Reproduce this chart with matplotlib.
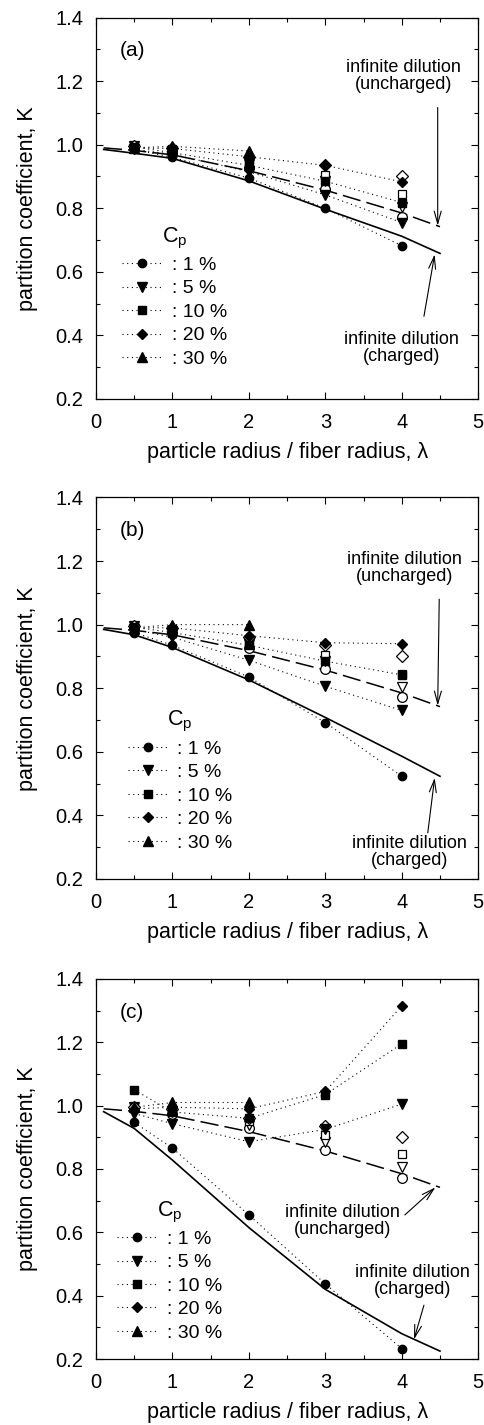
import matplotlib
matplotlib.use("Agg")
import matplotlib.pyplot as plt
from matplotlib.ticker import MultipleLocator

plt.rcParams['font.family'] = ['Liberation Sans', 'DejaVu Sans']

# data
lam = [0.5, 1, 2, 3, 4]
lam_30 = [0.5, 1, 2]
lam_line = [0.1, 0.5, 1, 2, 3, 4, 4.5]

# infinite dilution, uncharged (same in all panels)
K_unch = [0.99, 0.982, 0.968, 0.918, 0.857, 0.785, 0.742]

# infinite dilution, charged
K_ch_a = [0.985, 0.973, 0.957, 0.886, 0.797, 0.712, 0.658]
K_ch_b = [0.985, 0.968, 0.928, 0.826, 0.708, 0.586, 0.523]
K_ch_c = [0.981, 0.928, 0.828, 0.615, 0.42, 0.28, 0.225]

# open symbols (uncharged, finite concentration) - same in all panels
open_1 = [0.99, 0.975, 0.928, 0.86, 0.773]
open_5 = [0.995, 0.98, 0.94, 0.885, 0.805]
open_10 = [0.995, 0.985, 0.95, 0.906, 0.846]
open_20 = [0.995, 0.99, 0.96, 0.935, 0.902]

# filled symbols (charged), per panel
a_1 = [0.985, 0.96, 0.895, 0.80, 0.682]
a_5 = [0.985, 0.97, 0.915, 0.842, 0.755]
a_10 = [0.993, 0.975, 0.935, 0.885, 0.818]
a_20 = [0.99, 0.988, 0.962, 0.935, 0.883]
a_30 = [0.99, 0.995, 0.98]

b_1 = [0.975, 0.935, 0.835, 0.692, 0.523]
b_5 = [0.985, 0.96, 0.888, 0.806, 0.730]
b_10 = [0.992, 0.975, 0.935, 0.885, 0.842]
b_20 = [0.99, 0.99, 0.965, 0.943, 0.940]
b_30 = [0.99, 1.0, 1.0]

c_1 = [0.947, 0.866, 0.655, 0.437, 0.233]
c_5 = [0.975, 0.943, 0.886, 0.925, 1.005]
c_10 = [1.05, 0.98, 0.96, 1.035, 1.195]
c_20 = [0.99, 0.995, 0.99, 1.045, 1.315]
c_30 = [0.995, 1.01, 1.01]

cp_labels = [': 1 %', ': 5 %', ': 10 %', ': 20 %', ': 30 %']
markers = ['o', 'v', 's', 'D', '^']
msizes = [6, 6.5, 5.5, 5.5, 6.5]

dot = (0, (1, 3.2))

fig = plt.figure(figsize=(4.85, 14.25), dpi=100)
ax_a = fig.add_axes([0.198, 0.720, 0.788, 0.2677])
ax_b = fig.add_axes([0.198, 0.3832, 0.788, 0.2677])
ax_c = fig.add_axes([0.198, 0.0463, 0.788, 0.2667])

panels = [
    (ax_a, '(a)', K_ch_a, [a_1, a_5, a_10, a_20, a_30], (0.068, 0.455)),
    (ax_b, '(b)', K_ch_b, [b_1, b_5, b_10, b_20, b_30], (0.083, 0.445)),
    (ax_c, '(c)', K_ch_c, [c_1, c_5, c_10, c_20, c_30], (0.055, 0.42)),
]

for ax, tag, K_ch, series, leg_pos in panels:
    ax.plot(lam_line, K_unch, color='k', lw=1.1, dashes=(12, 4))
    ax.plot(lam_line, K_ch, color='k', lw=1.2)

    for ys, m in zip([open_1, open_5, open_10, open_20], ['o', 'v', 's', 'D']):
        ax.plot(lam, ys, ls='none', marker=m, ms=7 if m in 'ov' else 6,
                mfc='white', mec='k', mew=0.9)

    for ys, m, ms, lab in zip(series, markers, msizes, cp_labels):
        xs = lam_30 if len(ys) == 3 else lam
        ax.plot(xs, ys, color='k', ls=dot, lw=0.8, marker=m, ms=ms,
                mfc='k', mec='k', label=lab)

    ax.set_xlim(0, 5)
    ax.set_ylim(0.2, 1.4)
    ax.xaxis.set_major_locator(MultipleLocator(1))
    ax.xaxis.set_minor_locator(MultipleLocator(0.5))
    ax.yaxis.set_major_locator(MultipleLocator(0.2))
    ax.yaxis.set_minor_locator(MultipleLocator(0.1))
    ax.yaxis.set_major_formatter(plt.FormatStrFormatter('%.1f'))
    ax.tick_params(which='both', direction='in', top=True, right=True,
                   labelsize=14.5, width=0.8)
    ax.tick_params(which='major', length=5)
    ax.tick_params(which='minor', length=3)
    ax.tick_params(axis='x', pad=10)
    ax.tick_params(axis='y', pad=9)
    for sp in ax.spines.values():
        sp.set_linewidth(0.9)
    ax.set_xlabel('particle radius / fiber radius, λ', fontsize=15.5)
    ax.xaxis.set_label_coords(0.5, -0.112)
    ax.set_ylabel('partition coefficient, K', fontsize=15.5)
    ax.yaxis.set_label_coords(-0.152, 0.5)
    ax.text(0.31, 1.295, tag, fontsize=15, va='center', ha='left')

    ax.legend(loc='upper left', bbox_to_anchor=leg_pos, frameon=False,
              title='C$_\\mathregular{p}$', title_fontsize=15.5, fontsize=14,
              handlelength=2.1, handletextpad=0.45, labelspacing=0.3,
              borderpad=0, borderaxespad=0, numpoints=1)

arrow = dict(arrowstyle='->,head_length=0.9,head_width=0.25', color='k', lw=0.8,
             shrinkA=0, shrinkB=0)

tfs = 13

# panel (a) annotations
ax_a.text(4.02, 1.215, 'infinite dilution\n(uncharged)', fontsize=tfs,
          ha='center', va='center', linespacing=1.0)
ax_a.annotate('', xy=(4.47, 0.745), xytext=(4.47, 1.117), arrowprops=arrow)
ax_a.text(4.0, 0.36, 'infinite dilution\n(charged)', fontsize=tfs,
          ha='center', va='center', linespacing=1.0)
ax_a.annotate('', xy=(4.43, 0.655), xytext=(4.29, 0.46), arrowprops=arrow)

# panel (b) annotations
ax_b.text(4.04, 1.177, 'infinite dilution\n(uncharged)', fontsize=tfs,
          ha='center', va='center', linespacing=1.0)
ax_b.annotate('', xy=(4.47, 0.745), xytext=(4.49, 1.08), arrowprops=arrow)
ax_b.text(4.1, 0.285, 'infinite dilution\n(charged)', fontsize=tfs,
          ha='center', va='center', linespacing=1.0)
ax_b.annotate('', xy=(4.43, 0.518), xytext=(4.34, 0.345), arrowprops=arrow)

# panel (c) annotations
ax_c.text(3.23, 0.636, 'infinite dilution\n(uncharged)', fontsize=tfs,
          ha='center', va='center', linespacing=1.0)
ax_c.annotate('', xy=(4.44, 0.742), xytext=(4.04, 0.655), arrowprops=arrow)
ax_c.text(4.14, 0.447, 'infinite dilution\n(charged)', fontsize=tfs,
          ha='center', va='center', linespacing=1.0)
ax_c.annotate('', xy=(4.16, 0.262), xytext=(4.29, 0.37), arrowprops=arrow)

fig.savefig('out.png', dpi=100)
